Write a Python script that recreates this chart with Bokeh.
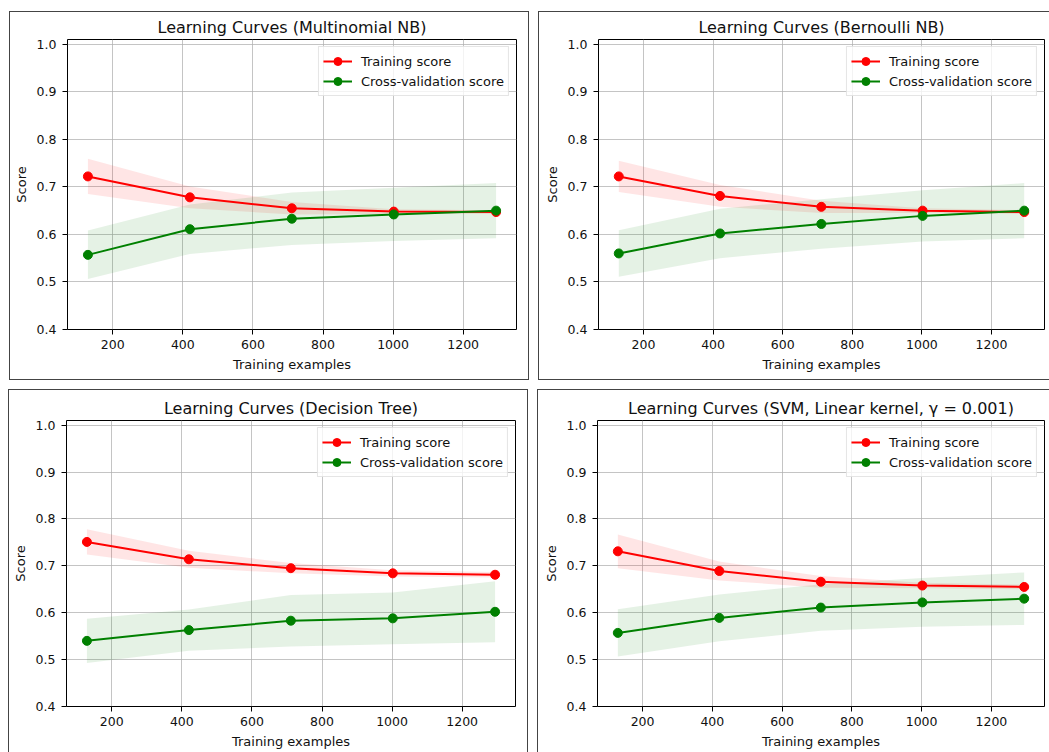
from bokeh.plotting import figure
from bokeh.models import Range1d, FixedTicker, PrintfTickFormatter
from bokeh.layouts import row, column
from bokeh.embed import file_html
from bokeh.resources import INLINE

# ---------------- data ----------------
train_sizes = [129, 420, 711, 1002, 1294]
x_ticks = [200, 400, 600, 800, 1000, 1200]
y_ticks = [0.4, 0.5, 0.6, 0.7, 0.8, 0.9, 1.0]

title_mnb = "Learning Curves (Multinomial NB)"
mnb_train_mean = [0.722, 0.678, 0.655, 0.648, 0.647]
mnb_train_std = [0.037, 0.023, 0.013, 0.005, 0.004]
mnb_test_mean = [0.557, 0.611, 0.633, 0.642, 0.650]
mnb_test_std = [0.051, 0.052, 0.055, 0.056, 0.058]

title_bnb = "Learning Curves (Bernoulli NB)"
bnb_train_mean = [0.722, 0.681, 0.658, 0.650, 0.647]
bnb_train_std = [0.033, 0.023, 0.013, 0.005, 0.004]
bnb_test_mean = [0.560, 0.602, 0.622, 0.639, 0.650]
bnb_test_std = [0.049, 0.052, 0.052, 0.054, 0.058]

title_dt = "Learning Curves (Decision Tree)"
dt_train_mean = [0.751, 0.714, 0.695, 0.684, 0.681]
dt_train_std = [0.027, 0.018, 0.011, 0.0065, 0.006]
dt_test_mean = [0.540, 0.563, 0.583, 0.588, 0.602]
dt_test_std = [0.047, 0.044, 0.055, 0.055, 0.065]

title_svm = "Learning Curves (SVM, Linear kernel, \u03b3 = 0.001)"
svm_train_mean = [0.731, 0.689, 0.666, 0.658, 0.655]
svm_train_std = [0.036, 0.020, 0.0125, 0.006, 0.005]
svm_test_mean = [0.557, 0.589, 0.611, 0.622, 0.630]
svm_test_std = [0.0505, 0.050, 0.0495, 0.052, 0.056]

train_label = "Training score"
test_label = "Cross-validation score"
x_label = "Training examples"
y_label = "Score"

# ---------------- style ----------------
FONT = "DejaVu Sans"
RED = "#ff0000"
GREEN = "#008000"
BOX = "1px solid #444444"
TXT = "#111111"


def panel(title, tr_m, tr_s, te_m, te_s, w, h, left, right, top, bottom, css):
    p = figure(width=w, height=h, output_backend="svg", toolbar_location=None,
               x_range=Range1d(70.75, 1352.25), y_range=Range1d(0.4, 1.01),
               min_border_left=left, min_border_right=right,
               min_border_top=top, min_border_bottom=bottom,
               background_fill_color="white", border_fill_color="white",
               styles=css)
    p.title.text = title
    p.title.text_font = FONT
    p.title.text_font_size = "16px"
    p.title.text_font_style = "normal"
    p.title.text_color = TXT
    p.title.align = "center"
    p.title.standoff = 6

    p.outline_line_color = "black"
    p.outline_line_width = 1
    p.outline_line_alpha = 1

    p.xaxis.ticker = FixedTicker(ticks=x_ticks)
    p.yaxis.ticker = FixedTicker(ticks=y_ticks)
    p.yaxis.formatter = PrintfTickFormatter(format="%.1f")
    for ax in (p.xaxis[0], p.yaxis[0]):
        ax.axis_line_color = None
        ax.major_tick_line_color = "black"
        ax.major_tick_in = 0
        ax.major_tick_out = 5
        ax.minor_tick_line_color = None
        ax.major_label_text_font = FONT
        ax.major_label_text_font_size = "12.5px"
        ax.major_label_text_color = TXT
        ax.axis_label_text_font = FONT
        ax.axis_label_text_font_size = "13px"
        ax.axis_label_text_font_style = "normal"
        ax.axis_label_text_color = TXT
    p.xaxis.axis_label = x_label
    p.yaxis.axis_label = y_label
    p.xaxis.major_label_standoff = 5
    p.xaxis.axis_label_standoff = 5
    p.yaxis.major_label_standoff = 6
    p.yaxis.axis_label_standoff = 5

    p.grid.grid_line_color = "#b0b0b0"
    p.grid.grid_line_width = 1
    p.grid.grid_line_alpha = 0.75

    tr_lo = [m - s for m, s in zip(tr_m, tr_s)]
    tr_hi = [m + s for m, s in zip(tr_m, tr_s)]
    te_lo = [m - s for m, s in zip(te_m, te_s)]
    te_hi = [m + s for m, s in zip(te_m, te_s)]
    p.varea(x=train_sizes, y1=tr_lo, y2=tr_hi, fill_color=RED, fill_alpha=0.1)
    p.varea(x=train_sizes, y1=te_lo, y2=te_hi, fill_color=GREEN, fill_alpha=0.1)

    p.line(train_sizes, tr_m, line_color=RED, line_width=2, legend_label=train_label)
    p.scatter(train_sizes, tr_m, size=9, fill_color=RED, line_color=RED,
              legend_label=train_label)
    p.line(train_sizes, te_m, line_color=GREEN, line_width=2, legend_label=test_label)
    p.scatter(train_sizes, te_m, size=9, fill_color=GREEN, line_color=GREEN,
              legend_label=test_label)

    lg = p.legend[0]
    lg.location = "top_right"
    lg.margin = 7
    lg.padding = 4
    lg.spacing = 0
    lg.glyph_width = 29
    lg.glyph_height = 20
    lg.label_standoff = 9
    lg.label_text_font = FONT
    lg.label_text_font_size = "13px"
    lg.label_text_color = TXT
    lg.label_height = 20
    lg.border_line_color = "#cccccc"
    lg.border_line_width = 1
    lg.background_fill_color = "white"
    lg.background_fill_alpha = 0.8
    return p


css_a = {"border": BOX}
css_b = {"border-top": BOX, "border-left": BOX, "border-bottom": BOX}
css_c = {"border-top": BOX, "border-left": BOX, "border-right": BOX}
css_d = {"border-top": BOX, "border-left": BOX}

# outer sizes include the CSS borders (border-box)
pa = panel(title_mnb, mnb_train_mean, mnb_train_std, mnb_test_mean, mnb_test_std,
           520, 369, 57, 14, 27, 52, css_a)
pb = panel(title_bnb, bnb_train_mean, bnb_train_std, bnb_test_mean, bnb_test_std,
           511, 369, 59, 6, 27, 52, css_b)
pc = panel(title_dt, dt_train_mean, dt_train_std, dt_test_mean, dt_test_std,
           520, 363, 57, 14, 27, 47, css_c)
pd = panel(title_svm, svm_train_mean, svm_train_std, svm_test_mean, svm_test_std,
           512, 363, 59, 6, 30, 44, css_d)

row1 = row(pa, pb, spacing=9, margin=(11, 0, 0, 9))
row2 = row(pc, pd, spacing=9, margin=(0, 0, 0, 8))
layout = column(row1, row2, spacing=9)

open("out.html", "w").write(file_html(layout, INLINE))
